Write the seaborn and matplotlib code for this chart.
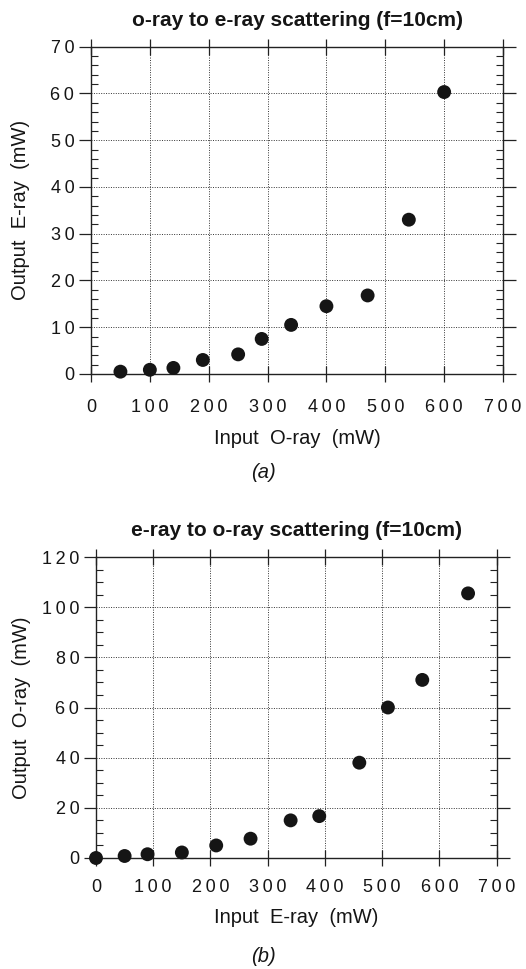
import matplotlib
matplotlib.use("Agg")
import matplotlib.pyplot as plt
import seaborn as sns
import pandas as pd
from matplotlib.ticker import MultipleLocator

# o-ray -> e-ray scattering measurements
input_o = [50, 100, 140, 190, 250, 290, 340, 400, 470, 540, 600]
output_e = [0.5, 0.9, 1.3, 3.0, 4.2, 7.5, 10.5, 14.5, 16.8, 33.0, 60.3]

# e-ray -> o-ray scattering measurements
input_e = [0, 50, 90, 150, 210, 270, 340, 390, 460, 510, 570, 650]
output_o = [0.0, 0.8, 1.5, 2.2, 5.0, 7.7, 15.0, 16.7, 38.0, 60.0, 71.0, 105.5]

x_ticks = [0, 100, 200, 300, 400, 500, 600, 700]
y_ticks_a = [0, 10, 20, 30, 40, 50, 60, 70]
y_ticks_b = [0, 20, 40, 60, 80, 100, 120]

sns.set_style("ticks")
plt.rcParams["font.family"] = ["Liberation Sans", "DejaVu Sans"]

INK = "#151515"
THIN = "\u2009"


def spaced(values):
    # tick labels with a little tracking between the digits
    return [THIN.join(str(v)) for v in values]


fig = plt.figure(figsize=(5.26, 9.69), dpi=100)
ax_a = fig.add_axes([91 / 526, 1 - 374 / 969, 412 / 526, 327.3 / 969])
ax_b = fig.add_axes([96 / 526, 1 - 858 / 969, 400.7 / 526, 301 / 969])


def style_axes(ax, yticks, yminor, title, xlabel, ylabel, xpad, ylabpad):
    ax.set_xlim(0, 700)
    ax.set_ylim(yticks[0], yticks[-1])
    ax.set_xticks(x_ticks)
    ax.set_xticklabels(spaced(x_ticks))
    ax.set_yticks(yticks)
    ax.set_yticklabels(spaced(yticks))
    ax.yaxis.set_minor_locator(MultipleLocator(yminor))
    ax.grid(True, which="major", linestyle=(0, (1, 1.5)), color="#333333", linewidth=0.7)
    for side in ["top", "right", "left", "bottom"]:
        ax.spines[side].set_visible(True)
        ax.spines[side].set_linewidth(1.0)
        ax.spines[side].set_color("#222222")
    ax.tick_params(axis="x", which="major", direction="inout", length=12, width=0.9,
                   top=True, bottom=True, labelsize=13, pad=xpad, colors="#222222")
    ax.tick_params(axis="y", which="major", direction="out", length=9, width=0.9,
                   left=True, right=True, labelsize=13, pad=3, colors="#222222")
    ax.tick_params(axis="y", which="minor", direction="in", length=5, width=0.8,
                   left=True, right=True, colors="#222222")
    for lbl in ax.get_xticklabels() + ax.get_yticklabels():
        lbl.set_color(INK)
    ax.set_title(title, fontsize=15, fontweight="bold", pad=15, color=INK)
    ax.set_xlabel(xlabel, fontsize=14.5, labelpad=9, color=INK)
    ax.set_ylabel(ylabel, fontsize=14.5, labelpad=ylabpad, color=INK)
    ax.set_axisbelow(True)


df_a = pd.DataFrame({"x": input_o, "y": output_e})
sns.scatterplot(data=df_a, x="x", y="y", ax=ax_a, color=INK, s=100,
                edgecolor="none", clip_on=False, zorder=3)
style_axes(ax_a, y_ticks_a, 2, "o-ray to e-ray scattering (f=10cm)",
           "Input  O-ray  (mW)", "Output  E-ray  (mW)", xpad=12, ylabpad=15)

df_b = pd.DataFrame({"x": input_e, "y": output_o})
sns.scatterplot(data=df_b, x="x", y="y", ax=ax_b, color=INK, s=100,
                edgecolor="none", clip_on=False, zorder=3)
style_axes(ax_b, y_ticks_b, 5, "e-ray to o-ray scattering (f=10cm)",
           "Input  E-ray  (mW)", "Output  O-ray  (mW)", xpad=9, ylabpad=8)

fig.text(0.5, 1 - 472 / 969, "(a)", ha="center", va="center", fontsize=14.5,
         style="italic", color=INK)
fig.text(0.5, 1 - 957 / 969, "(b)", ha="center", va="center", fontsize=14.5,
         style="italic", color=INK)

fig.savefig("out.png", dpi=100)
